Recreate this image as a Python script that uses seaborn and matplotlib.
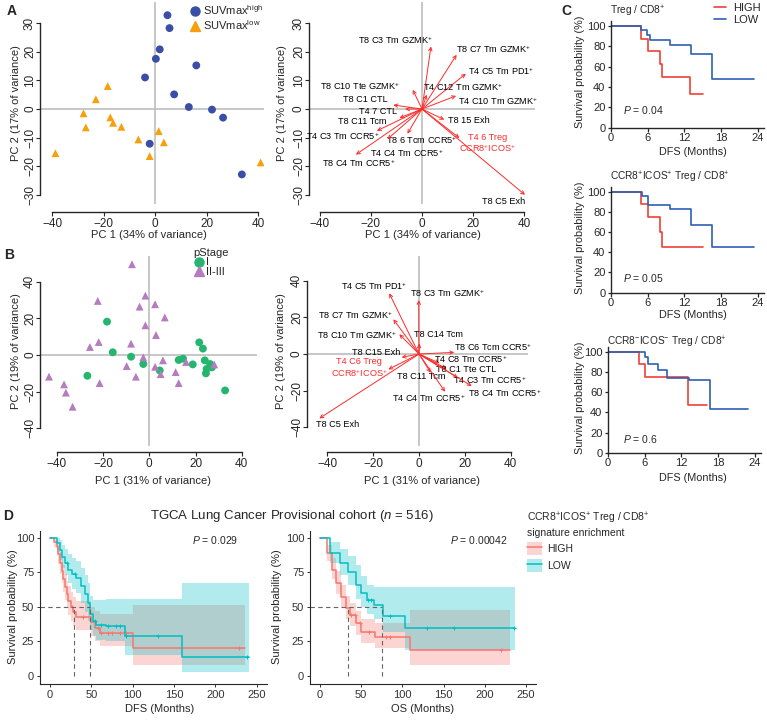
import numpy as np
import pandas as pd
import seaborn as sns
import matplotlib.pyplot as plt
from matplotlib.lines import Line2D
from matplotlib.patches import Patch

# ---------------- values ----------------
# A: PCA scores by SUVmax group
suv_high_pc1 = [4.8, 5.6, 1.8, 0.3, 16.0, -3.9, 7.4, 13.1, 22.1, 26.4, -2.1, 33.7]
suv_high_pc2 = [32.7, 28.2, 20.8, 17.5, 15.2, 11.0, 5.1, 0.7, -0.2, -3.0, -12.1, -22.8]
suv_low_pc1 = [-18.4, -23.0, -27.8, -26.9, -17.4, -16.3, -13.1, -6.5, 1.4, 3.4, -2.1, -38.7, 41.0]
suv_low_pc2 = [8.0, 3.4, -1.5, -6.4, -2.9, -4.8, -6.2, -10.6, -7.7, -11.6, -16.4, -15.4, -18.6]

# A: loadings
a_names = ['T8 C3 Tm GZMK$^{+}$', 'T8 C7 Tm GZMK$^{+}$', 'T4 C5 Tm PD1$^{+}$', 'T4 C12 Tm GZMK$^{+}$',
           'T4 C10 Tm GZMK$^{+}$', 'T8 C10 Tte GZMK$^{+}$', 'T8 C1 CTL', 'T4 7 CTL', 'T8 C11 Tcm',
           'T4 C3 Tm CCR5$^{+}$', 'T8 6 Tcm CCR5$^{+}$', 'T4 C4 Tm CCR5$^{+}$', 'T8 C4 Tm CCR5$^{+}$',
           'T8 15 Exh', 'T4 6 Treg\nCCR8$^{+}$ICOS$^{+}$', 'T8 C5 Exh']
a_load_x = [3.5, 13.5, 17.1, 1.8, 13.3, -3.6, -11.2, -6.6, -8.8, -17.6, -5.7, -13.5, -25.8, 8.7, 14.6, 40.2]
a_load_y = [21.8, 18.9, 12.3, 5.0, 4.6, 6.7, 1.4, 0.0, -3.1, -7.6, -8.6, -10.5, -15.9, -3.7, -10.1, -29.9]
a_red = [14]

# B: PCA scores by pStage
stage1_pc1 = [-18.3, -15.8, -26.8, -7.9, -2.6, 4.5, 12.7, 14.6, 18.8, 21.6, 23.2, 24.0, 24.8, 24.5, 26.3, 27.1, 32.8]
stage1_pc2 = [18.2, 1.5, -11.3, -0.9, -4.9, -8.4, -2.7, -2.0, -5.1, 6.9, 3.5, -2.9, -7.6, -10.0, -4.9, -6.7, -19.3]
stage23_pc1 = [-7.5, -22.3, -1.7, -4.2, 2.5, 6.7, -1.7, 2.9, -25.7, -21.9, -7.9, -2.6, -9.8, -5.8, 2.5,
               5.9, 4.9, 11.4, 12.7, 15.9, 28.1, -43.4, -36.9, -36.1, -21.5, -33.2]
stage23_pc2 = [49.5, 29.5, 32.4, 26.4, 27.7, 20.5, 16.2, 10.9, 4.4, 7.1, 6.2, -1.3, -6.0, -11.8, -6.4,
               -2.9, -10.4, -9.3, -15.3, -3.8, -5.1, -11.8, -16.0, -20.5, -15.3, -28.2]

# B: loadings
b_names = ['T4 C5 Tm PD1$^{+}$', 'T8 C3 Tm GZMK$^{+}$', 'T8 C7 Tm GZMK$^{+}$', 'T8 C10 Tm GZMK$^{+}$',
           'T8 C14 Tcm', 'T8 C6 Tcm CCR5$^{+}$', 'T8 C15 Exh', 'T4 C6 Treg\nCCR8$^{+}$ICOS$^{+}$',
           'T4 C8 Tm CCR5$^{+}$', 'T8 C1 Tte CTL', 'T8 C11 Tcm', 'T4 C3 Tm CCR5$^{+}$',
           'T8 C4 Tm CCR5$^{+}$', 'T4 C4 Tm CCR5$^{+}$', 'T8 C5 Exh']
b_load_x = [-13.0, -0.1, -11.2, -8.6, 0.1, 15.4, -7.6, -13.4, 9.0, 12.0, 5.1, 17.0, 23.0, 11.4, -43.5]
b_load_y = [33.2, 29.5, 19.0, 10.8, 5.8, 0.9, -1.8, -8.4, -5.0, -8.0, -10.2, -13.0, -17.5, -20.6, -35.2]
b_red = [7]

# C: Kaplan-Meier, DFS months / survival %
c_titles = ['Treg / CD8$^{+}$', 'CCR8$^{+}$ICOS$^{+}$ Treg / CD8$^{+}$', 'CCR8$^{-}$ICOS$^{-}$ Treg / CD8$^{+}$']
c_pvals = ['0.04', '0.05', '0.6']
c_high_t = [[0, 4.9, 6.1, 8.0, 8.4, 12.9, 15.1],
            [0, 4.9, 6.0, 8.0, 8.4, 15.1],
            [0, 5.0, 6.1, 13.0, 16.2]]
c_high_s = [[100, 87.5, 75, 62.5, 50, 33.3, 33.3],
            [100, 88, 75, 60, 45, 45],
            [100, 87.5, 75, 47, 47]]
c_low_t = [[0, 4.9, 5.9, 6.3, 9.6, 13.1, 16.5, 23.3],
           [0, 5.0, 6.1, 9.6, 13.0, 16.5, 23.3],
           [0, 6.1, 6.5, 8.1, 9.6, 13.2, 16.6, 22.9]]
c_low_s = [[100, 96, 91, 86, 81.5, 72, 48, 48],
           [100, 96, 87, 82.6, 67, 45, 45],
           [100, 95, 88, 82, 74, 72, 43, 43]]

# D: TCGA Kaplan-Meier with confidence bands
dfs_hi_t = [0, 5, 8, 10, 12, 14, 16, 18, 20, 22, 25, 28, 32, 49, 55, 60, 100, 236]
dfs_hi_s = [100, 97, 93, 88, 82, 76, 70, 64, 59, 54, 50, 46, 43, 39, 35, 31, 20, 20]
dfs_hi_lo = [100, 93, 87, 81, 74, 67, 61, 55, 49, 44, 40, 36, 33, 29, 25, 22, 8, 8]
dfs_hi_up = [100, 100, 98, 95, 90, 85, 80, 74, 69, 65, 61, 57, 54, 50, 47, 45, 51, 51]
dfs_lo_t = [0, 8, 12, 15, 18, 22, 26, 32, 38, 42, 46, 48, 52, 56, 68, 91, 160, 241]
dfs_lo_s = [100, 96, 91, 86, 82, 77, 74, 71, 65, 59, 53, 45, 40, 37, 36, 29, 14, 14]
dfs_lo_lo = [100, 90, 84, 78, 73, 67, 63, 60, 53, 46, 40, 33, 29, 26, 25, 15, 3, 3]
dfs_lo_up = [100, 100, 98, 95, 92, 88, 85, 83, 78, 73, 67, 58, 55, 55, 56, 56, 67, 67]
dfs_hi_cens = [27, 40, 58, 62, 70, 75, 85, 92, 228]
dfs_lo_cens = [20, 30, 55, 62, 70, 80, 85, 92, 130, 238]
dfs_median = [29, 48.4]

os_hi_t = [0, 8, 14, 20, 26, 32, 36, 44, 50, 67, 109, 230]
os_hi_s = [100, 89, 77, 67, 57, 49, 44, 38, 32, 28.4, 18.8, 18.8]
os_hi_lo = [100, 83, 70, 59, 49, 41, 36, 30, 24, 20, 8, 8]
os_hi_up = [100, 95, 85, 76, 66, 58, 53, 47, 41, 38, 48, 48]
os_lo_t = [0, 12, 24, 34, 44, 50, 57, 65, 76, 103, 236]
os_lo_s = [100, 89, 81.5, 75, 66, 60, 55, 51, 43.5, 34.5, 34.5]
os_lo_lo = [100, 82, 73, 66, 56, 50, 45, 41, 32, 19, 19]
os_lo_up = [100, 97, 92, 87, 80, 72, 66, 64.6, 64.6, 64.6, 64.6]
os_hi_cens = [38, 42, 48, 60, 80, 85, 220]
os_lo_cens = [58, 62, 85, 130, 162, 235]
os_median = [33.6, 75.5]

# ---------------- style ----------------
sns.set_style('ticks')
plt.rcParams['font.family'] = ['Liberation Sans', 'DejaVu Sans']
plt.rcParams['mathtext.fontset'] = 'custom'
plt.rcParams['mathtext.rm'] = 'Liberation Sans'
plt.rcParams['mathtext.it'] = 'Liberation Sans:italic'
plt.rcParams['mathtext.bf'] = 'Liberation Sans:bold'

W, H = 767, 720
PT = 72 / 100  # points per pixel
BLUE, ORANGE = '#3a4ea6', '#f5a00c'
GREEN, PURPLE = '#24b56e', '#b57cc0'
ARROW = '#ff2a2a'
C_RED, C_BLUE = '#ef4136', '#2f5fb3'
D_RED, D_TEAL = '#F8766D', '#00BFC4'
GREY = '#bdbdbd'

fig = plt.figure(figsize=(W / 100, H / 100), dpi=100)


def px_axes(l, t, r, b):
    return fig.add_axes([l / W, 1 - b / H, (r - l) / W, (b - t) / H])


def ftext(x, y, s, **kw):
    kw.setdefault('ha', 'center')
    kw.setdefault('va', 'center')
    return fig.text(x / W, 1 - y / H, s, **kw)


def r_style(ax, xlim, ylim, yticks, drop_px):
    ax.set_xlim(*xlim)
    ax.set_ylim(*ylim)
    sns.despine(ax=ax)
    ax.set_xticks([-40, -20, 0, 20, 40])
    ax.set_yticks(yticks)
    ax.spines['bottom'].set_position(('outward', drop_px * PT))
    ax.spines['bottom'].set_bounds(-40, 40)
    ax.spines['left'].set_bounds(yticks[0], yticks[-1])
    for sp in ('bottom', 'left'):
        ax.spines[sp].set_linewidth(1.0)
    ax.tick_params(length=4 * PT, width=0.8, labelsize=8.5, pad=1.5)
    ax.tick_params(axis='y', labelrotation=90, pad=0)
    for lab in ax.get_yticklabels():
        lab.set_va('center')
    ax.axhline(0, color=GREY, lw=1.2, zorder=0)
    ax.axvline(0, color=GREY, lw=1.2, zorder=0)
    ax.set_xlabel('')
    ax.set_ylabel('')


def biplot(ax, names, lx, ly, red, lab_pos):
    for i, (nm, x, y) in enumerate(zip(names, lx, ly)):
        ax.annotate('', xy=(x, y), xytext=(0, 0),
                    arrowprops=dict(arrowstyle='->', color=ARROW, lw=0.7,
                                    shrinkA=0, shrinkB=0, mutation_scale=6))
        tx, ty, ha = lab_pos[i]
        ax.text(tx, ty, nm, ha=ha, va='center', fontsize=6.6, linespacing=1.1,
                multialignment='center', color=ARROW if i in red else 'black')


# ---------------- A left: scores ----------------
ax = px_axes(40, 2, 264, 204)
dfa = pd.DataFrame({'PC1': suv_high_pc1 + suv_low_pc1,
                    'PC2': suv_high_pc2 + suv_low_pc2,
                    'grp': ['high'] * len(suv_high_pc1) + ['low'] * len(suv_low_pc1)})
sns.scatterplot(data=dfa, x='PC1', y='PC2', hue='grp', style='grp',
                markers={'high': 'o', 'low': '^'}, palette={'high': BLUE, 'low': ORANGE},
                s=32, linewidth=0, legend=False, ax=ax, zorder=3)
r_style(ax, (-44.7, 42.3), (-33.1, 37.3), [-30, -20, -10, 0, 10, 20, 30], 8)
ax.legend([Line2D([], [], marker='o', ls='', color=BLUE, ms=6.5),
           Line2D([], [], marker='^', ls='', color=ORANGE, ms=7)],
          ['SUVmax$^{\\mathrm{high}}$', 'SUVmax$^{\\mathrm{low}}$'],
          loc='upper left', bbox_to_anchor=(188 / W, 1 - 3 / H), bbox_transform=fig.transFigure,
          frameon=False, fontsize=8, handlelength=1.2, handletextpad=0.15,
          borderpad=0, borderaxespad=0, labelspacing=0.15)
ftext(149, 235, 'PC 1 (34% of variance)', fontsize=8)
ftext(16, 103, 'PC 2 (17% of variance)', fontsize=8, rotation=90)

# ---------------- A right: loadings ----------------
ax = px_axes(309, 2, 535, 204)
a_lab_pos = [(-10.2, 24.1, 'center'), (13.3, 20.7, 'left'), (18.0, 13.1, 'left'), (0.4, 7.5, 'left'),
             (14.0, 2.6, 'left'), (-8.6, 8.1, 'right'), (-13.3, 3.2, 'right'), (-9.9, -0.8, 'right'),
             (-13.8, -4.5, 'right'), (-16.4, -9.3, 'right'), (-14.0, -11.0, 'left'),
             (-20.3, -15.5, 'left'), (-39.2, -18.9, 'left'), (10.2, -4.0, 'left'),
             (25.6, -12.0, 'center'), (32.0, -32.3, 'center')]
biplot(ax, a_names, a_load_x, a_load_y, a_red, a_lab_pos)
r_style(ax, (-44.1, 44.1), (-33.1, 37.3), [-30, -20, -10, 0, 10, 20, 30], 8)
ftext(423, 235, 'PC 1 (34% of variance)', fontsize=8)
ftext(282, 103, 'PC 2 (17% of variance)', fontsize=8, rotation=90)

# ---------------- B left: scores ----------------
ax = px_axes(40, 256, 257, 446)
dfb = pd.DataFrame({'PC1': stage1_pc1 + stage23_pc1,
                    'PC2': stage1_pc2 + stage23_pc2,
                    'stage': ['I'] * len(stage1_pc1) + ['II-III'] * len(stage23_pc1)})
sns.scatterplot(data=dfb, x='PC1', y='PC2', hue='stage', style='stage',
                markers={'I': 'o', 'II-III': '^'}, palette={'I': GREEN, 'II-III': PURPLE},
                s=32, linewidth=0, legend=False, ax=ax, zorder=3)
r_style(ax, (-47.3, 46.6), (-49.6, 54.0), [-40, -20, 0, 20, 40], 6)
ax.legend([Line2D([], [], marker='o', ls='', color=GREEN, ms=6.5),
           Line2D([], [], marker='^', ls='', color=PURPLE, ms=7)],
          ['I', 'II-III'], title='pStage', alignment='left',
          loc='upper left', bbox_to_anchor=(193 / W, 1 - 248 / H), bbox_transform=fig.transFigure,
          frameon=False, fontsize=8, title_fontsize=8, handlelength=1.0, handletextpad=0.15,
          borderpad=0, borderaxespad=0, labelspacing=-0.05)
ftext(153, 481, 'PC 1 (31% of variance)', fontsize=8)
ftext(16, 351, 'PC 2 (19% of variance)', fontsize=8, rotation=90)

# ---------------- B right: loadings ----------------
ax = px_axes(307, 256, 528, 446)
b_lab_pos = [(-19.6, 37.2, 'center'), (-3.9, 33.2, 'left'), (-11.5, 21.3, 'right'), (-9.7, 10.4, 'right'),
             (-2.2, 10.4, 'left'), (15.4, 3.7, 'left'), (-8.3, 0.7, 'right'), (-26.1, -7.8, 'center'),
             (6.6, -2.6, 'left'), (7.3, -8.4, 'left'), (0.9, -12.2, 'center'), (14.7, -14.2, 'left'),
             (21.4, -21.4, 'left'), (4.4, -24.2, 'center'), (-45.0, -38.8, 'left')]
biplot(ax, b_names, b_load_x, b_load_y, b_red, b_lab_pos)
r_style(ax, (-48.9, 47.6), (-50.3, 53.6), [-40, -20, 0, 20, 40], 6)
ftext(422, 481, 'PC 1 (31% of variance)', fontsize=8)
ftext(281, 351, 'PC 2 (19% of variance)', fontsize=8, rotation=90)

# ---------------- C: small KM panels ----------------
c_boxes = [(611, 20.9, 764, 127.7), (611, 186.6, 764, 292.7), (608, 346.7, 761, 452.7)]
c_title_y = [11, 177, 342]
c_xlab_y = [152, 315, 478]
c_p_y = [110, 278, 439]
for i, (l, t, r, b) in enumerate(c_boxes):
    ax = px_axes(l, t, r, b)
    sns.lineplot(x=c_high_t[i], y=c_high_s[i], drawstyle='steps-post', color=C_RED,
                 lw=1.2, errorbar=None, ax=ax)
    sns.lineplot(x=c_low_t[i], y=c_low_s[i], drawstyle='steps-post', color=C_BLUE,
                 lw=1.2, errorbar=None, ax=ax)
    ax.set_xlim(0, 25)
    ax.set_ylim(0, 105)
    ax.set_xticks([0, 6, 12, 18, 24])
    ax.set_yticks([0, 20, 40, 60, 80, 100])
    sns.despine(ax=ax)
    for sp in ('bottom', 'left'):
        ax.spines[sp].set_linewidth(1.0)
    ax.tick_params(length=3.5 * PT, width=0.9, labelsize=8, pad=1.5)
    ax.set_xlabel('')
    ax.set_ylabel('')
    ftext(l - 1, c_title_y[i], c_titles[i], fontsize=7.3, ha='left')
    ftext(693, c_xlab_y[i], 'DFS (Months)', fontsize=7.8)
    ftext(580, (t + b) / 2 - 2, 'Survival probability (%)', fontsize=7.8, rotation=90)
    ftext(623, c_p_y[i], '$P$ = ' + c_pvals[i], fontsize=7.5, ha='left')
fig.legend([Line2D([], [], color=C_RED, lw=1.2), Line2D([], [], color=C_BLUE, lw=1.2)],
           ['HIGH', 'LOW'], loc='upper left', bbox_to_anchor=(714 / W, 1 - 3 / H),
           frameon=False, fontsize=8, handlelength=1.1, handletextpad=0.6,
           borderpad=0, borderaxespad=0, labelspacing=0.15)


# ---------------- D: TCGA KM panels ----------------
def step_at(t, s, q):
    t = np.asarray(t)
    s = np.asarray(s)
    return s[np.searchsorted(t, q, side='right') - 1]


d_sets = [
    (40, 266.7, 'DFS (Months)', 160, '0.029', dfs_median,
     [(dfs_hi_t, dfs_hi_s, dfs_hi_lo, dfs_hi_up, dfs_hi_cens, D_RED),
      (dfs_lo_t, dfs_lo_s, dfs_lo_lo, dfs_lo_up, dfs_lo_cens, D_TEAL)], 13),
    (310, 536, 'OS (Months)', 423, '0.00042', os_median,
     [(os_hi_t, os_hi_s, os_hi_lo, os_hi_up, os_hi_cens, D_RED),
      (os_lo_t, os_lo_s, os_lo_lo, os_lo_up, os_lo_cens, D_TEAL)], 277),
]
for l, r, xlab, xlab_x, pval, med, curves, ylab_x in d_sets:
    ax = px_axes(l, 530.8, r, 684)
    for t, s, lo, up, cens, col in curves:
        ax.fill_between(t, lo, up, step='post', color=col, alpha=0.3, lw=0)
        sns.lineplot(x=t, y=s, drawstyle='steps-post', color=col, lw=1.1,
                     errorbar=None, ax=ax)
        ax.plot(cens, step_at(t, s, cens), ls='', marker='+', ms=3.5, mew=0.7, color=col)
    ax.set_xlim(-12.1, 262)
    ax.set_ylim(-5.8, 105)
    ax.hlines(50, -12.1, max(med), colors='#666666', linestyles=(0, (4, 3)), lw=0.8)
    ax.vlines(med, 0, 50, colors='#666666', linestyles=(0, (4, 3)), lw=0.8)
    ax.set_xticks([0, 50, 100, 150, 200, 250])
    ax.set_yticks([0, 25, 50, 75, 100])
    sns.despine(ax=ax)
    for sp in ('bottom', 'left'):
        ax.spines[sp].set_linewidth(0.8)
    ax.tick_params(length=3 * PT, width=0.7, labelsize=8, pad=2, labelcolor='#333333',
                   color='#333333')
    ax.set_xlabel('')
    ax.set_ylabel('')
    ftext(xlab_x, 709, xlab, fontsize=8)
    ftext(ylab_x, 607, 'Survival probability (%)', fontsize=8, rotation=90)
    ftext(r - 28, 540, '$P$ = ' + pval, fontsize=7.5, ha='right')

ftext(292, 516, 'TGCA Lung Cancer Provisional cohort ($n$ = 516)', fontsize=9.5)
fig.legend([(Patch(facecolor=D_RED, alpha=0.3, lw=0), Line2D([], [], color=D_RED, lw=1.1)),
            (Patch(facecolor=D_TEAL, alpha=0.3, lw=0), Line2D([], [], color=D_TEAL, lw=1.1))],
           ['HIGH', 'LOW'],
           title='CCR8$^{+}$ICOS$^{+}$ Treg / CD8$^{+}$\nsignature enrichment', alignment='left',
           loc='upper left', bbox_to_anchor=(527 / W, 1 - 511 / H),
           frameon=False, fontsize=7.5, title_fontsize=7.5, handlelength=1.4, handleheight=1.6,
           handletextpad=0.5, borderpad=0, borderaxespad=0, labelspacing=0.35)

# panel letters
for x, y, s in [(12, 11, 'A'), (9, 255, 'B'), (566, 11, 'C'), (8, 516, 'D')]:
    ftext(x, y, s, fontsize=10, fontweight='bold')

fig.savefig('out.png', dpi=100)
